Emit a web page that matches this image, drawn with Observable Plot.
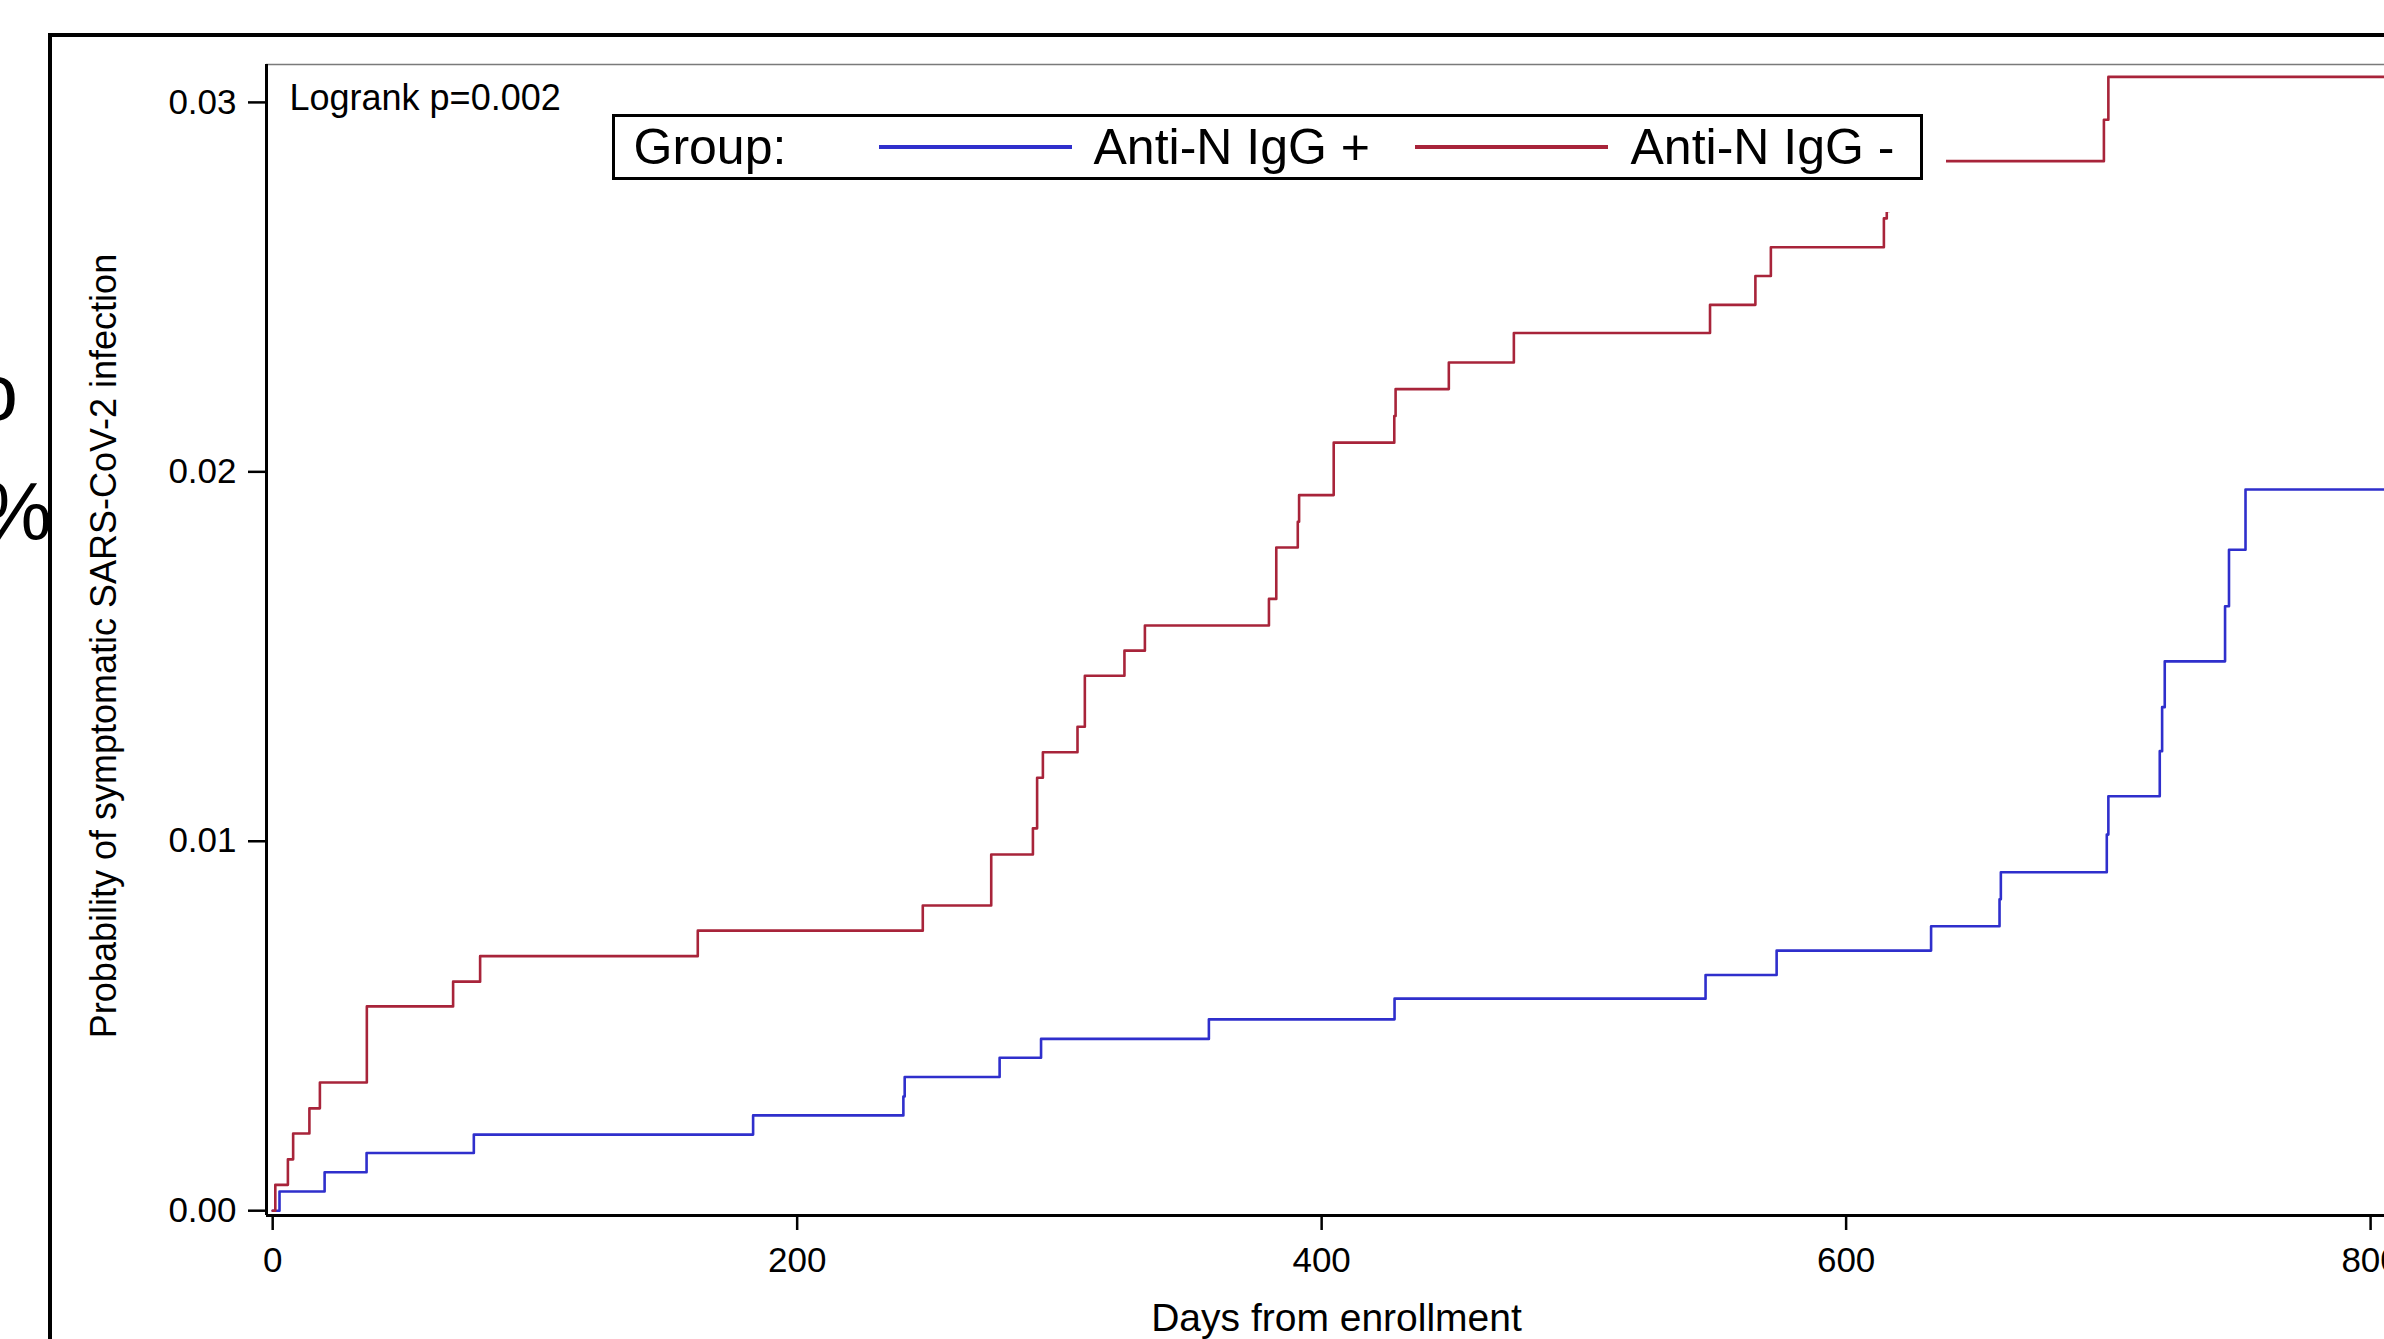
<!DOCTYPE html>
<html>
<head>
<meta charset="utf-8">
<script src="https://cdn.jsdelivr.net/npm/d3@7"></script>
<script src="https://cdn.jsdelivr.net/npm/@observablehq/plot@0.6"></script>
<style>
  html, body { margin: 0; padding: 0; background: #fff; overflow: hidden; }
  #wrap { position: relative; width: 2384px; height: 1339px; font-family: "Liberation Sans", Arial, sans-serif; }
  #wrap > svg { position: absolute; left: 0; top: 0; }
  #border { position: absolute; left: 48px; top: 33px; width: 3000px; height: 3000px;
            border-left: 4px solid #000; border-top: 4px solid #000; pointer-events: none; }
  #legend { position: absolute; left: 594px; top: 96px; width: 1352px; height: 116px; background: #fff; }
  #legend .box { position: absolute; left: 18px; top: 18px; width: 1311px; height: 66px;
                 border: 3.5px solid #000; box-sizing: border-box; font-size: 50px; color: #000; }
  #legend .item { position: absolute; top: 0; height: 100%; display: flex; align-items: center; white-space: nowrap; line-height: 1; }
  #legend .swatch { width: 193px; height: 4px; }
</style>
</head>
<body>
<div id="wrap"></div>
<script>
// ---------------- data ----------------
const groups = ["Anti-N IgG +", "Anti-N IgG -"];
const groupColors = ["#2f2fcc", "#a8243a"];
const legendTitle = "Group:";
const logrankLabel = "Logrank p=0.002";
const xLabel = "Days from enrollment";
const yLabel = "Probability of symptomatic SARS-CoV-2 infection";
const xTicks = [0, 200, 400, 600, 800];
const yTicks = [0.00, 0.01, 0.02, 0.03];

// Anti-N IgG + (step times and cumulative probabilities)
const posDays = [0, 2.6, 19.8, 35.8, 76.7, 183.2, 240.5, 241.0, 277.2, 293.0, 357.0, 427.8,
                 546.4, 573.5, 632.4, 658.5, 659.0, 699.4, 700.0, 719.6, 720.5, 721.5, 744.5, 746.0, 752.3, 810];
const posProb = [0, 0.00052, 0.00104, 0.00156, 0.00206, 0.00258, 0.00309, 0.00362, 0.00414, 0.00465, 0.00518, 0.00574,
                 0.00638, 0.00704, 0.00770, 0.00843, 0.00916, 0.01018, 0.01122, 0.01244, 0.01363, 0.01487, 0.01636, 0.01789, 0.01952, 0.01952];

// Anti-N IgG -
const negDays = [0, 1.0, 5.8, 7.8, 14.0, 18.0, 35.9, 68.8, 79.1, 162.1, 247.9, 274.0, 289.9, 291.5, 293.7, 306.9,
                 309.7, 324.8, 332.6, 379.9, 382.7, 390.9, 391.4, 404.6, 427.7, 428.2, 448.5, 473.3, 548.1, 565.4,
                 571.3, 614.4, 615.5, 616.5, 698.3, 700.0, 810];
const negProb = [0, 0.00070, 0.00139, 0.00209, 0.00277, 0.00347, 0.00553, 0.00620, 0.00689, 0.00758, 0.00826, 0.00964,
                 0.01035, 0.01172, 0.01241, 0.01310, 0.01448, 0.01516, 0.01584, 0.01656, 0.01795, 0.01865, 0.01937,
                 0.02079, 0.02151, 0.02224, 0.02296, 0.02376, 0.02452, 0.02530, 0.02608, 0.02686, 0.02706, 0.02841,
                 0.02953, 0.03069, 0.03069];

const xDomain = [-2.36, 805.3];
const yDomain = [-0.00013, 0.031026];

// ---------------- build ----------------
const posData = posDays.map((d, i) => ({day: d, p: posProb[i]}));
const negData = negDays.map((d, i) => ({day: d, p: negProb[i]}));

const chart = Plot.plot({
  width: 2384,
  height: 1339,
  marginLeft: 266,
  marginRight: 0,
  marginTop: 64,
  marginBottom: 124,
  style: {background: "white", color: "black", fontFamily: "'Liberation Sans', Arial, sans-serif", overflow: "visible"},
  x: {domain: xDomain},
  y: {domain: yDomain},
  marks: [
    Plot.ruleY([yDomain[1]], {stroke: "#7a7a7a", strokeWidth: 1.5}),
    Plot.line(posData, {x: "day", y: "p", curve: "step-after", stroke: groupColors[0], strokeWidth: 2.6, clip: true}),
    Plot.line(negData, {x: "day", y: "p", curve: "step-after", stroke: groupColors[1], strokeWidth: 2.6, clip: true}),
    Plot.ruleX([xDomain[0]], {stroke: "black", strokeWidth: 3}),
    Plot.ruleY([yDomain[0]], {stroke: "black", strokeWidth: 3}),
    Plot.axisY({ticks: yTicks, tickFormat: d3.format(".2f"), tickSize: 18, tickPadding: 12, fontSize: 35, strokeWidth: 2.5, label: null}),
    Plot.axisX({ticks: xTicks, tickFormat: d3.format("d"), tickSize: 15, tickPadding: 17, fontSize: 35, strokeWidth: 2.5, label: null}),
    Plot.text([logrankLabel], {text: d => d, frameAnchor: "top-left", dx: 23, dy: 20, lineAnchor: "top", textAnchor: "start", fontSize: 36, fill: "black"}),
    Plot.text([xLabel], {text: d => d, frameAnchor: "bottom", dx: 11, dy: 88, lineAnchor: "top", fontSize: 39, fill: "black"}),
    Plot.text([yLabel], {text: d => d, frameAnchor: "left", dx: -162, dy: 6, rotate: -90, textAnchor: "middle", lineAnchor: "middle", fontSize: 36, fill: "black"})
  ]
});

const wrap = document.getElementById("wrap");
wrap.appendChild(chart);

// cut-off glyphs from the neighbouring panel at the far left
const svg = d3.select(chart);
svg.append("text").attr("x", 18).attr("y", 420).attr("text-anchor", "end")
   .attr("font-size", 80).attr("fill", "black").text("o");
svg.append("text").attr("x", 52).attr("y", 540).attr("text-anchor", "end")
   .attr("font-size", 82).attr("fill", "black").text("%");

// outer panel border
const border = document.createElement("div");
border.id = "border";
wrap.appendChild(border);

// legend
const legend = document.createElement("div");
legend.id = "legend";
const box = document.createElement("div");
box.className = "box";
legend.appendChild(box);
const itemLefts = {title: 18.5, line: [263.5, 799.5], text: [478.5, 1015.5]};
const t = document.createElement("div");
t.className = "item"; t.style.left = itemLefts.title + "px"; t.textContent = legendTitle;
box.appendChild(t);
groups.forEach((g, i) => {
  const l = document.createElement("div");
  l.className = "item"; l.style.left = itemLefts.line[i] + "px";
  const sw = document.createElement("div"); sw.className = "swatch"; sw.style.background = groupColors[i];
  l.appendChild(sw);
  box.appendChild(l);
  const tx = document.createElement("div");
  tx.className = "item"; tx.style.left = itemLefts.text[i] + "px"; tx.textContent = g;
  box.appendChild(tx);
});
wrap.appendChild(legend);
</script>
</body>
</html>
